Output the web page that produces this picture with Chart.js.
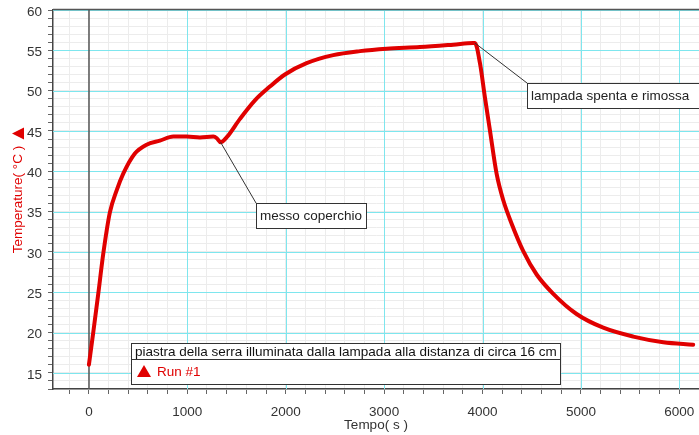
<!DOCTYPE html>
<html>
<head>
<meta charset="utf-8">
<script src="https://cdn.jsdelivr.net/npm/chart.js@4/dist/chart.umd.min.js"></script>
<style>
  html, body { margin: 0; padding: 0; background: #fff; }
</style>
</head>
<body>
<canvas id="tempChart" width="699" height="435"></canvas>
<script>

    // Tempo (s) and temperature (°C)
    const tempo = [0, 44, 95, 145, 213, 281, 349, 467, 586, 721, 857, 993, 1128, 1264, 1300, 1338,
        1399, 1535, 1687, 1839, 1992, 2212, 2483, 2754, 3025, 3364, 3703, 3906, 3923,
        3974, 4024, 4075, 4143, 4211, 4296, 4414, 4550, 4719, 4956, 5227, 5532, 5837, 6141];
    const temperatura = [16.0, 20.0, 24.8, 29.7, 34.9, 37.6, 39.7, 42.2, 43.3, 43.8, 44.3, 44.3, 44.2, 44.3, 44.1, 43.6,
        44.2, 46.5, 48.8, 50.5, 52.0, 53.4, 54.4, 54.9, 55.2, 55.4, 55.7, 55.9, 55.9,
        53.4, 49.2, 45.1, 39.7, 36.4, 33.5, 30.1, 27.2, 24.8, 22.3, 20.6, 19.5, 18.8, 18.5];

    const xRange = [-365, 6200];
    const yRange = [13, 60];
    const xLabels = [0, 1000, 2000, 3000, 4000, 5000, 6000];
    const yLabels = [15, 20, 25, 30, 35, 40, 45, 50, 55, 60];
    const xMinorStep = 200;
    const yMinorStep = 1;

    const legendTitle = "piastra della serra illuminata dalla lampada alla distanza di circa 16 cm";
    const seriesName = "Run #1";
    const notes = [
        { text: "messo coperchio", at: [1338, 43.6], box: [256, 203, 110, 25] },
        { text: "lampada spenta e rimossa", at: [3923, 55.9], box: [527, 83, 172, 25] }
    ];

    const red = "#e00000";
    const cyan = "#7ee6ee";
    const minorGrid = "#ececec";
    const font = "Liberation Sans, Arial, sans-serif";
    const fontSize = 13.5;

    // minor tick positions, every step inside the range
    function minorTicks(range, step) {
        const out = [];
        for (let v = Math.ceil(range[0] / step) * step; v <= range[1]; v += step) out.push(v);
        return out;
    }
    const xTickVals = minorTicks(xRange, xMinorStep);
    const yTickVals = minorTicks(yRange, yMinorStep);

    // major (cyan) grid and the zero line, drawn over the minor grid
    const majorGrid = {
        id: "majorGrid",
        beforeDatasetsDraw(c) {
            const ctx = c.ctx;
            const xs = c.scales.x, ys = c.scales.y;
            const a = c.chartArea;
            ctx.save();
            ctx.lineWidth = 1;
            ctx.strokeStyle = cyan;
            yLabels.forEach(v => {
                const p = Math.round(ys.getPixelForValue(v)) + 0.5;
                ctx.beginPath();
                ctx.moveTo(a.left, p);
                ctx.lineTo(a.right, p);
                ctx.stroke();
            });
            xLabels.forEach(v => {
                if (v === 0) return;
                const p = Math.round(xs.getPixelForValue(v)) + 0.5;
                ctx.beginPath();
                ctx.moveTo(p, a.top);
                ctx.lineTo(p, a.bottom);
                ctx.stroke();
            });
            const z = Math.round(xs.getPixelForValue(0));
            ctx.strokeStyle = "#555";
            ctx.lineWidth = 1.5;
            ctx.beginPath();
            ctx.moveTo(z, a.top);
            ctx.lineTo(z, a.bottom);
            ctx.stroke();
            ctx.restore();
        }
    };

    const extras = {
        id: "extras",
        afterDraw(c) {
            const ctx = c.ctx;
            const xs = c.scales.x, ys = c.scales.y;
            const area = c.chartArea;
            ctx.save();

            // top frame line
            ctx.strokeStyle = "#555";
            ctx.lineWidth = 1.5;
            ctx.beginPath();
            ctx.moveTo(area.left, area.top - 0.5);
            ctx.lineTo(area.right, area.top - 0.5);
            ctx.stroke();

            // marker next to y title
            ctx.fillStyle = red;
            ctx.beginPath();
            ctx.moveTo(12, 133.5);
            ctx.lineTo(24, 127.5);
            ctx.lineTo(24, 139.5);
            ctx.closePath();
            ctx.fill();

            // callouts
            ctx.font = fontSize + "px " + font;
            ctx.textBaseline = "middle";
            ctx.textAlign = "left";
            notes.forEach(n => {
                const px = xs.getPixelForValue(n.at[0]);
                const py = ys.getPixelForValue(n.at[1]);
                const [bx, by, bw, bh] = n.box;
                ctx.strokeStyle = "#333";
                ctx.lineWidth = 1;
                ctx.beginPath();
                ctx.moveTo(px, py);
                ctx.lineTo(bx, by);
                ctx.stroke();
                ctx.fillStyle = "#fff";
                ctx.fillRect(bx + 0.5, by + 0.5, bw, bh);
                ctx.strokeRect(bx + 0.5, by + 0.5, bw, bh);
                ctx.fillStyle = "#222";
                ctx.fillText(n.text, bx + 4, by + bh / 2 + 1);
            });

            // legend box
            ctx.fillStyle = "#fff";
            ctx.fillRect(131.5, 343.5, 429, 41);
            ctx.strokeStyle = "#333";
            ctx.strokeRect(131.5, 343.5, 429, 41);
            ctx.beginPath();
            ctx.moveTo(131.5, 359.5);
            ctx.lineTo(560.5, 359.5);
            ctx.stroke();
            ctx.fillStyle = "#111";
            ctx.fillText(legendTitle, 135, 352);
            ctx.fillStyle = red;
            ctx.beginPath();
            ctx.moveTo(144, 365);
            ctx.lineTo(151, 377);
            ctx.lineTo(137, 377);
            ctx.closePath();
            ctx.fill();
            ctx.fillText(seriesName, 157, 372.5);

            ctx.restore();
        }
    };

    new Chart(document.getElementById("tempChart"), {
        type: "line",
        data: {
            datasets: [{
                label: seriesName,
                data: tempo.map((t, i) => ({ x: t, y: temperatura[i] })),
                borderColor: red,
                borderWidth: 4,
                pointRadius: 0,
                cubicInterpolationMode: "monotone",
                borderJoinStyle: "round",
                borderCapStyle: "round"
            }]
        },
        options: {
            responsive: false,
            animation: false,
            devicePixelRatio: 1,
            layout: { padding: { top: 10, right: 0, left: 0, bottom: 0 } },
            plugins: {
                legend: { display: false },
                tooltip: { enabled: false }
            },
            scales: {
                x: {
                    type: "linear",
                    min: xRange[0],
                    max: xRange[1],
                    afterBuildTicks: s => { s.ticks = xTickVals.map(v => ({ value: v })); },
                    afterFit: s => { s.height = 46; s.paddingLeft = 0; s.paddingRight = 0; },
                    border: { color: "#444", width: 1.5 },
                    grid: {
                        color: minorGrid,
                        tickColor: "#666",
                        tickLength: 5
                    },
                    ticks: {
                        autoSkip: false,
                        maxRotation: 0,
                        padding: 10,
                        color: "#333",
                        font: { family: font, size: fontSize },
                        callback: v => (xLabels.includes(v) ? String(v) : "")
                    },
                    title: {
                        display: true,
                        text: "Tempo( s )",
                        color: "#333",
                        font: { family: font, size: fontSize },
                        padding: { top: 0, bottom: 2 }
                    }
                },
                y: {
                    min: yRange[0],
                    max: yRange[1],
                    afterBuildTicks: s => { s.ticks = yTickVals.map(v => ({ value: v })); },
                    afterFit: s => { s.width = 53; s.paddingTop = 0; s.paddingBottom = 0; },
                    border: { color: "#444", width: 1.5 },
                    grid: {
                        color: minorGrid,
                        tickColor: "#666",
                        tickLength: 5
                    },
                    ticks: {
                        autoSkip: false,
                        padding: 6,
                        labelOffset: 2,
                        color: "#333",
                        font: { family: font, size: fontSize },
                        callback: v => (yLabels.includes(v) ? String(v) : "")
                    },
                    title: {
                        display: true,
                        text: "Temperature( °C )",
                        color: red,
                        font: { family: font, size: fontSize },
                        padding: { top: 10, bottom: 0 }
                    }
                }
            }
        },
        plugins: [majorGrid, extras]
    });

</script>
</body>
</html>
